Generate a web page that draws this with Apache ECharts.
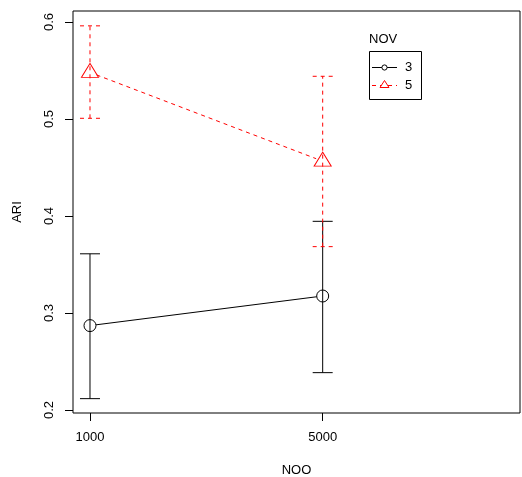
<!DOCTYPE html>
<html>
<head>
<meta charset="utf-8">
<script src="https://cdn.jsdelivr.net/npm/echarts@6/dist/echarts.min.js"></script>
<style>html,body{margin:0;padding:0;background:#fff}#c{width:522px;height:477px}</style>
</head>
<body>
<div id="c"></div>
<script>
var categories = ['1000', '5000'];
var catPos = [1, 2];
var nov3Mean = [0.287, 0.3175];
var nov3Upper = [0.361, 0.3945];
var nov3Lower = [0.2117, 0.2385];
var nov5Mean = [0.548, 0.4565];
var nov5Upper = [0.596, 0.544];
var nov5Lower = [0.5007, 0.3684];
var yTicks = [0.2, 0.3, 0.4, 0.5, 0.6];

var FONT = '"Liberation Sans", Arial, sans-serif';

function pts(mean) { return catPos.map(function (p, i) { return [p, mean[i]]; }); }
function errData(lo, hi) { return catPos.map(function (p, i) { return [p, lo[i], hi[i]]; }); }

function errRender(color, dash) {
  return function (params, api) {
    var x = api.value(0);
    var lo = api.coord([x, api.value(1)]);
    var hi = api.coord([x, api.value(2)]);
    var w = 10;
    var st = { stroke: color, lineWidth: 1, lineDash: dash };
    return {
      type: 'group',
      children: [
        { type: 'line', shape: { x1: lo[0], y1: lo[1], x2: hi[0], y2: hi[1] }, style: st },
        { type: 'line', shape: { x1: lo[0] - w, y1: lo[1], x2: lo[0] + w, y2: lo[1] }, style: st },
        { type: 'line', shape: { x1: hi[0] - w, y1: hi[1], x2: hi[0] + w, y2: hi[1] }, style: st }
      ]
    };
  };
}

// connecting segments with a gap around each point (R type "b")
function segRender(mean, color, dash, gap) {
  return function (params, api) {
    var i = params.dataIndex;
    if (i >= mean.length - 1) return null;
    var a = api.coord([catPos[i], mean[i]]);
    var b = api.coord([catPos[i + 1], mean[i + 1]]);
    var dx = b[0] - a[0], dy = b[1] - a[1];
    var len = Math.sqrt(dx * dx + dy * dy);
    var ux = dx / len, uy = dy / len;
    return {
      type: 'line',
      shape: { x1: a[0] + ux * gap, y1: a[1] + uy * gap, x2: b[0] - ux * gap, y2: b[1] - uy * gap },
      style: { stroke: color, lineWidth: 1, lineDash: dash }
    };
  };
}

var chart = echarts.init(document.getElementById('c'), null, { renderer: 'canvas' });
chart.setOption({
  backgroundColor: '#fff',
  animation: false,
  textStyle: { fontFamily: FONT },
  grid: { left: 73, right: 2, top: 11, bottom: 64, show: true, borderColor: '#000', borderWidth: 1,
    backgroundColor: 'transparent', containLabel: false, outerBoundsMode: 'none' },
  xAxis: {
    type: 'value', min: 0.927, max: 2.848,
    name: 'NOO', nameLocation: 'middle', nameGap: 51,
    nameTextStyle: { fontSize: 13, color: '#000', fontFamily: FONT },
    axisLine: { show: false },
    splitLine: { show: false },
    axisTick: { show: true, length: 8, lineStyle: { color: '#000' }, customValues: catPos },
    axisLabel: { fontSize: 13, color: '#000', fontFamily: FONT, margin: 18, customValues: catPos,
      formatter: function (v) { var i = catPos.indexOf(v); return i >= 0 ? categories[i] : ''; } }
  },
  yAxis: {
    type: 'value', min: 0.1969, max: 0.6113,
    name: 'ARI', nameLocation: 'middle', nameGap: 49,
    nameTextStyle: { fontSize: 13, color: '#000', fontFamily: FONT },
    axisLine: { show: false },
    splitLine: { show: false },
    axisTick: { show: true, length: 8, lineStyle: { color: '#000' }, customValues: yTicks },
    axisLabel: { fontSize: 13, color: '#000', fontFamily: FONT, rotate: 90, margin: 17, customValues: yTicks,
      formatter: function (v) { return v.toFixed(1); } }
  },
  series: [
    {
      name: 'err3', type: 'custom', data: errData(nov3Lower, nov3Upper),
      renderItem: errRender('#000', null), z: 2
    },
    {
      name: 'seg3', type: 'custom', data: pts(nov3Mean),
      renderItem: segRender(nov3Mean, '#000', null, 6), z: 2
    },
    {
      name: '3', type: 'scatter', data: pts(nov3Mean),
      symbol: 'circle', symbolSize: 12,
      itemStyle: { color: 'rgba(0,0,0,0)', borderColor: '#000', borderWidth: 1, opacity: 1 },
      z: 3
    },
    {
      name: 'err5', type: 'custom', data: errData(nov5Lower, nov5Upper),
      renderItem: errRender('#ff0000', [4, 4]), z: 4
    },
    {
      name: 'seg5', type: 'custom', data: pts(nov5Mean),
      renderItem: segRender(nov5Mean, '#ff0000', [4, 4], 7), z: 4
    },
    {
      name: '5', type: 'scatter', data: pts(nov5Mean),
      symbol: 'triangle', symbolSize: [17, 14], symbolOffset: [0, -2],
      itemStyle: { color: 'rgba(0,0,0,0)', borderColor: '#ff0000', borderWidth: 1, opacity: 1 },
      z: 5
    }
  ],
  graphic: [
    { type: 'text', left: 369, top: 33, style: { text: 'NOV', font: '13px ' + FONT, fill: '#000' } },
    { type: 'rect', shape: { x: 369.5, y: 51.5, width: 52, height: 48 }, style: { fill: 'none', stroke: '#000', lineWidth: 1 } },
    { type: 'line', shape: { x1: 372, y1: 67.5, x2: 397, y2: 67.5 }, style: { stroke: '#000', lineWidth: 1 } },
    { type: 'circle', shape: { cx: 384.5, cy: 67.5, r: 2.6 }, style: { fill: '#fff', stroke: '#000', lineWidth: 1 } },
    { type: 'text', left: 405, top: 61, style: { text: '3', font: '13px ' + FONT, fill: '#000' } },
    { type: 'line', shape: { x1: 372, y1: 85.5, x2: 397, y2: 85.5 }, style: { stroke: '#ff0000', lineWidth: 1, lineDash: [4, 4] } },
    { type: 'polygon', shape: { points: [[384.5, 80.5], [380, 87.5], [389, 87.5]] }, style: { fill: '#fff', stroke: '#ff0000', lineWidth: 1 } },
    { type: 'text', left: 405, top: 79, style: { text: '5', font: '13px ' + FONT, fill: '#000' } }
  ]
});
</script>
</body>
</html>
